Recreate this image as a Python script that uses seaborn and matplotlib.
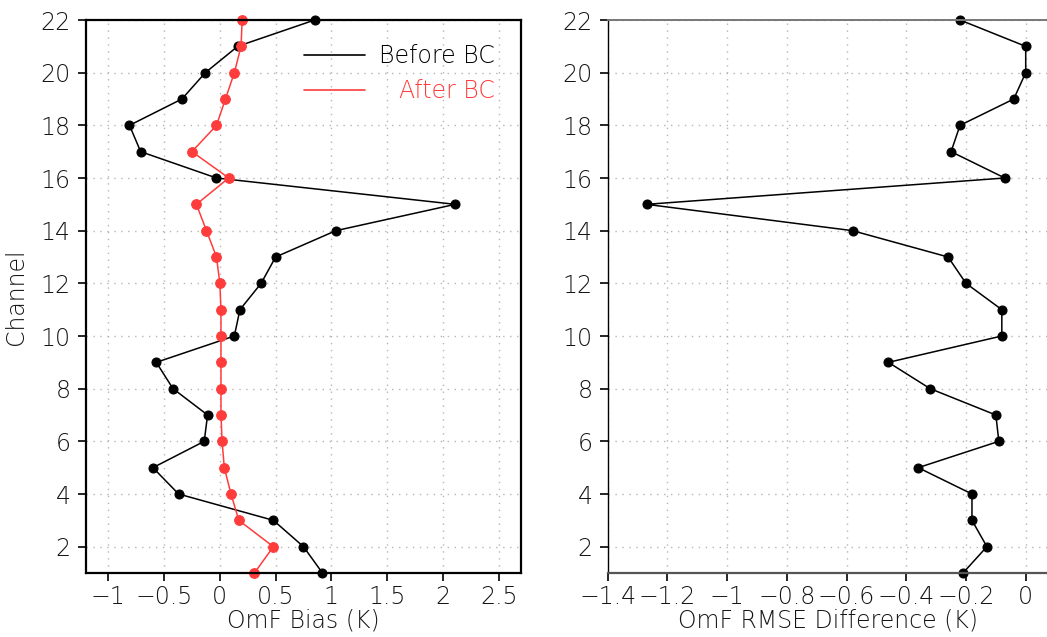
import matplotlib
matplotlib.use("Agg")
import matplotlib.pyplot as plt
from matplotlib.lines import Line2D
from matplotlib.ticker import FuncFormatter
import seaborn as sns

channels = list(range(1, 23))
bias_before = [0.92, 0.75, 0.48, -0.37, -0.60, -0.14, -0.11, -0.42, -0.57, 0.13,
               0.18, 0.37, 0.50, 1.04, 2.11, -0.03, -0.71, -0.81, -0.34, -0.13,
               0.16, 0.85]
bias_after = [0.31, 0.48, 0.17, 0.10, 0.04, 0.02, 0.01, 0.01, 0.01, 0.01,
              0.01, 0.00, -0.03, -0.12, -0.21, 0.08, -0.25, -0.03, 0.05, 0.13,
              0.19, 0.20]
rmse_diff = [-0.21, -0.13, -0.18, -0.18, -0.36, -0.09, -0.10, -0.32, -0.46, -0.08,
             -0.08, -0.20, -0.26, -0.58, -1.27, -0.07, -0.25, -0.22, -0.04, 0.00,
             0.00, -0.22]
series_labels = ["Before BC", "After BC"]
left_xticks = [-1, -0.5, 0, 0.5, 1, 1.5, 2, 2.5]
right_xticks = [-1.4, -1.2, -1, -0.8, -0.6, -0.4, -0.2, 0]
yticks = list(range(2, 23, 2))

RED = "#ff3c3c"
BLACK = "#000000"
TXT = "#151515"

sns.set_theme(style="white")
plt.rcParams["font.family"] = ["DejaVu Sans"]
plt.rcParams["axes.unicode_minus"] = True
FS = 17

fig = plt.figure(figsize=(10.47, 6.37), dpi=100)
W, H = 1047, 637
ax1 = fig.add_axes([86 / W, (H - 573) / H, 435 / W, 553 / H])
ax2 = fig.add_axes([607.7 / W, (H - 573) / H, 441 / W, 553 / H])

fmt = FuncFormatter(lambda v, p: ("%g" % round(v, 3)).replace("-", "\u2212"))

def style(ax, xticks):
    ax.set_ylim(1, 22)
    ax.set_yticks(yticks)
    ax.set_xticks(xticks)
    ax.xaxis.set_major_formatter(fmt)
    ax.grid(True, color="#b5b5b5", linestyle=(0, (1, 4)), linewidth=1.0)
    ax.set_axisbelow(True)
    ax.tick_params(axis="both", which="major", direction="out", length=6,
                   width=1.2, color="black", labelsize=FS,
                   bottom=True, left=True, labelcolor=TXT)
    ax.tick_params(axis="x", pad=3)
    ax.tick_params(axis="y", pad=5)
    for lab in ax.get_xticklabels() + ax.get_yticklabels():
        lab.set_fontweight("light")

# Left panel
sns.lineplot(x=bias_before, y=channels, sort=False, orient="y", ax=ax1,
             color=BLACK, marker="o", markersize=6.5, markeredgecolor=BLACK,
             linewidth=1.1, clip_on=False)
sns.lineplot(x=bias_after, y=channels, sort=False, orient="y", ax=ax1,
             color=RED, marker="o", markersize=7, markeredgecolor=RED,
             linewidth=1.1, clip_on=False)
ax1.set_xlim(-1.2, 2.7)
style(ax1, left_xticks)
for s in ax1.spines.values():
    s.set_color("black")
    s.set_linewidth(1.6)
ax1.set_xlabel("OmF Bias (K)", fontsize=FS, fontweight="light", labelpad=-1,
               color=TXT)
ax1.set_ylabel("Channel", fontsize=FS, fontweight="light", labelpad=9,
               color=TXT)

handles = [Line2D([], [], color=BLACK, linewidth=1.2),
           Line2D([], [], color=RED, linewidth=1.2)]
leg = ax1.legend(handles, series_labels, loc="upper right",
                 bbox_to_anchor=(0.94, 0.956), frameon=False,
                 prop={"size": FS, "weight": "light"}, handlelength=2.6,
                 handletextpad=0.6, labelspacing=0.45, borderpad=0,
                 borderaxespad=0)
for t, c in zip(leg.get_texts(), [BLACK, RED]):
    t.set_color(c)

# Right panel
sns.lineplot(x=rmse_diff, y=channels, sort=False, orient="y", ax=ax2,
             color=BLACK, marker="o", markersize=6.5, markeredgecolor=BLACK,
             linewidth=1.1, clip_on=False)
ax2.set_xlim(-1.4, 0.077)
style(ax2, right_xticks)
ax2.spines["right"].set_visible(False)
ax2.spines["top"].set_color("#777777")
ax2.spines["top"].set_linestyle((0, (4, 1)))
ax2.spines["top"].set_linewidth(1.4)
ax2.spines["left"].set_color("black")
ax2.spines["left"].set_linewidth(1.0)
ax2.spines["bottom"].set_color("#555555")
ax2.spines["bottom"].set_linewidth(1.6)
ax2.set_xlabel("OmF RMSE Difference (K)", fontsize=FS, fontweight="light",
               labelpad=-1, color=TXT)
ax2.set_ylabel("")
if ax2.get_legend():
    ax2.get_legend().remove()

# Right-align legend texts while keeping line handles left-aligned
fig.canvas.draw()
renderer = fig.canvas.get_renderer()
widths = [t.get_window_extent(renderer).width for t in leg.get_texts()]
maxw = max(widths)
base_sep = 0.6 * FS
cols = leg._legend_handle_box.get_children()
items = [ib for col in cols for ib in col.get_children()]
for ib, w in zip(items, widths):
    ib.sep = base_sep + (maxw - w) * 72.0 / fig.dpi

fig.savefig("out.png", dpi=100)
